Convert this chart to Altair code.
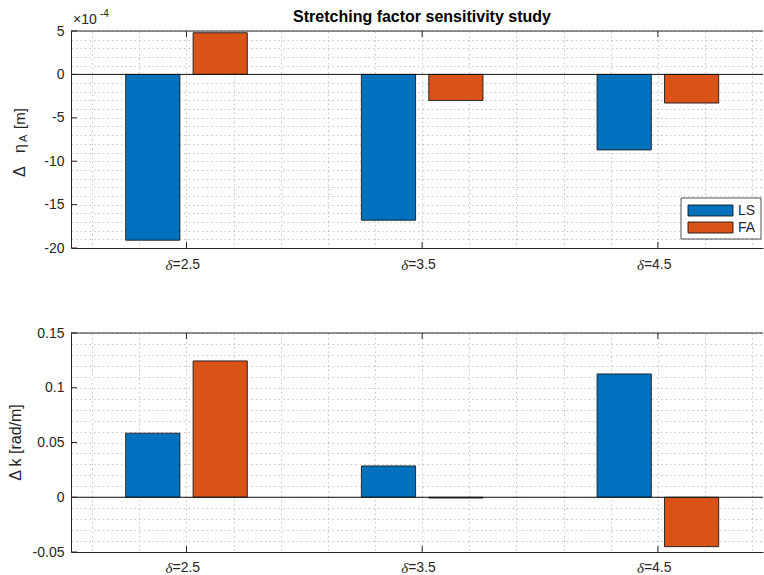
import altair as alt
import pandas as pd

# ---- data -------------------------------------------------------------
delta = [2.5, 3.5, 4.5]
series = ["LS", "FA"]
colors = ["#0072BD", "#D95319"]

# change in crest elevation eta_A [m]
eta_ls = [-19.1e-4, -16.8e-4, -8.7e-4]
eta_fa = [4.8e-4, -3.0e-4, -3.3e-4]
# change in wave number k [rad/m]
k_ls = [0.0585, 0.0286, 0.1126]
k_fa = [0.1245, -0.0007, -0.0451]

eta_ticks = [-20, -15, -10, -5, 0, 5]          # in units of 1e-4 m
k_ticks = [-0.05, 0, 0.05, 0.1, 0.15]

rows = []
for i, d in enumerate(delta):
    rows.append({"delta": d, "series": "LS", "eta": eta_ls[i], "k": k_ls[i]})
    rows.append({"delta": d, "series": "FA", "eta": eta_fa[i], "k": k_fa[i]})
df = pd.DataFrame(rows)
ticks_df = pd.DataFrame({"delta": delta})
legend_df = pd.DataFrame({"series": series})
one = pd.DataFrame({"a": [0]})

# ---- layout constants -------------------------------------------------
W = 692
H_TOP = 217
H_BOT = 219
X_DOMAIN = [2.01, 4.946]
SHIFT = 0.143      # group offset of each series
HALF = 0.115       # half bar width
FONT = "Liberation Sans"
AX = "#262626"
GRID = "#c4c4c4"
TICK_LEN = 6

x_grid = [round(2.1 + 0.2 * i, 1) for i in range(15)]
xscale = alt.Scale(domain=X_DOMAIN, nice=False, zero=False)
cscale = alt.Scale(domain=series, range=colors)


def panel(field, y_domain, y_grid, y_ticks, label_expr, height, label_off):
    yscale = alt.Scale(domain=y_domain, nice=False, zero=False)
    base = alt.Chart(df).transform_calculate(
        y=f"datum.{field}",
        x0=f"datum.delta + (datum.series == 'LS' ? -{SHIFT} : {SHIFT}) - {HALF}",
        x1=f"datum.delta + (datum.series == 'LS' ? -{SHIFT} : {SHIFT}) + {HALF}",
    )
    bars = base.mark_rect(stroke="#1a1a1a", strokeWidth=0.9).encode(
        x=alt.X("x0:Q", scale=xscale, axis=alt.Axis(
            values=x_grid, tickCount=len(x_grid) + 10,
            labels=False, ticks=False, title=None,
            grid=True, gridColor=GRID, gridDash=[1.5, 3], gridWidth=1,
            domain=True, domainColor=AX, domainWidth=1)),
        x2="x1:Q",
        y=alt.Y("y:Q", scale=yscale, axis=alt.Axis(
            values=y_grid, tickCount=len(y_grid) + 10,
            labelExpr=label_expr, ticks=False, title=None,
            grid=True, gridColor=GRID, gridDash=[1.5, 3], gridWidth=1,
            domain=True, domainColor=AX, domainWidth=1,
            labelOverlap=False, labelBound=False, labelFlush=False,
            labelFont=FONT, labelFontSize=14, labelColor=AX, labelPadding=7)),
        y2=alt.datum(0),
        color=alt.Color("series:N", scale=cscale, legend=None),
    )
    zero = alt.Chart(one).mark_rule(color="#111111", strokeWidth=1).encode(
        y=alt.datum(0))
    top_line = alt.Chart(one).mark_rule(color=AX, strokeWidth=1).encode(
        x=alt.value(0), x2=alt.value(W), y=alt.value(0))
    xt_bot = alt.Chart(ticks_df).mark_rule(color=AX).encode(
        x="delta:Q", y=alt.value(height - TICK_LEN), y2=alt.value(height))
    xt_top = alt.Chart(ticks_df).mark_rule(color=AX).encode(
        x="delta:Q", y=alt.value(0), y2=alt.value(TICK_LEN))
    yt = alt.Chart(pd.DataFrame({"v": y_ticks})).mark_rule(color=AX).encode(
        y="v:Q", x=alt.value(0), x2=alt.value(TICK_LEN))
    lab_d = alt.Chart(ticks_df).mark_text(
        text="δ", font="Liberation Serif", fontStyle="italic", fontSize=15,
        align="right", baseline="middle", dx=-14, color=AX,
    ).encode(x="delta:Q", y=alt.value(height + label_off))
    lab_v = alt.Chart(ticks_df).transform_calculate(
        t="'=' + format(datum.delta, '.1f')"
    ).mark_text(
        font=FONT, fontSize=14, align="left", baseline="middle", dx=-14, color=AX,
    ).encode(x="delta:Q", y=alt.value(height + label_off), text="t:N")
    return [bars, zero, top_line, xt_bot, xt_top, yt, lab_d, lab_v]


# ---- upper panel: delta eta_A -----------------------------------------
eta_grid = list(range(-20, 6))
top_layers = panel(
    "eta * 1e4", [-20, 5], eta_grid, eta_ticks,
    "datum.value % 5 == 0 ? (datum.value < 0 ? '-' : '') + abs(datum.value) : ''",
    H_TOP, 17,
)

# y label built from pieces so that A can sit as a subscript
def vtext(txt, x, y, size, align="left", style="normal"):
    return alt.Chart(one).mark_text(
        text=txt, angle=270, font=FONT, fontSize=size, fontStyle=style,
        align=align, baseline="middle", color=AX,
    ).encode(x=alt.value(x), y=alt.value(y))

top_label = [
    vtext("Δ", -51, 146, 16),
    vtext("η", -51, 122, 16),
    vtext("A", -47, 111, 11),
    vtext("[m]", -51, 98, 15),
]

exponent = [
    alt.Chart(one).mark_text(text="×10", font=FONT, fontSize=14, align="left",
                             baseline="alphabetic", color=AX
                             ).encode(x=alt.value(2), y=alt.value(-7)),
    alt.Chart(one).mark_text(text="-4", font=FONT, fontSize=10, align="left",
                             baseline="alphabetic", color=AX
                             ).encode(x=alt.value(29), y=alt.value(-14)),
]

title = alt.Chart(one).mark_text(
    text="Stretching factor sensitivity study", font=FONT, fontSize=16,
    fontWeight="bold", align="center", baseline="alphabetic", color="#000000",
).encode(x=alt.value(351), y=alt.value(-9))

# legend drawn inside the upper panel
legend_layers = [
    alt.Chart(one).mark_rect(fill="white", stroke=AX, strokeWidth=0.8).encode(
        x=alt.value(610), x2=alt.value(690), y=alt.value(167), y2=alt.value(208))
]
for i, s in enumerate(series):
    y0 = 174 + 17 * i
    legend_layers.append(
        alt.Chart(legend_df).transform_filter(f"datum.series == '{s}'")
        .mark_rect(stroke="#1a1a1a", strokeWidth=0.9).encode(
            x=alt.value(617), x2=alt.value(662), y=alt.value(y0), y2=alt.value(y0 + 11),
            color=alt.Color("series:N", scale=cscale, legend=None)))
    legend_layers.append(
        alt.Chart(legend_df).transform_filter(f"datum.series == '{s}'")
        .mark_text(font=FONT, fontSize=14, align="left", baseline="middle", color=AX)
        .encode(x=alt.value(667), y=alt.value(y0 + 6), text="series:N"))

# fixes the page origin so the plot area starts at (71, 31)
anchor = alt.Chart(one).mark_rule(color="white", strokeWidth=0.5).encode(
    x=alt.value(-70.75), x2=alt.value(-70.5), y=alt.value(-30.75), y2=alt.value(-30.75))

top = alt.layer(*top_layers, *top_label, *exponent, title, *legend_layers, anchor
                ).properties(width=W, height=H_TOP)

# ---- lower panel: delta k ---------------------------------------------
k_grid = [round(0.01 * i, 2) for i in range(-5, 16)]
bot_layers = panel(
    "k", [-0.05, 0.15], k_grid, k_ticks,
    "abs(round(datum.value * 100)) % 5 == 0 ? (datum.value < 0 ? '-' : '') + format(abs(datum.value), '~g') : ''",
    H_BOT, 16,
)
bot_label = alt.Chart(one).mark_text(
    text="Δ k [rad/m]", angle=270, font=FONT, fontSize=16, align="center",
    baseline="middle", color=AX,
).encode(x=alt.value(-55), y=alt.value(H_BOT / 2))

bottom = alt.layer(*bot_layers, bot_label).properties(width=W, height=H_BOT)

chart = alt.vconcat(top, bottom, spacing=85, bounds="flush").properties(
    padding=0, background="white"
).configure_view(stroke=None)

chart.save("out.html", embed_options={"renderer": "svg", "actions": False})
